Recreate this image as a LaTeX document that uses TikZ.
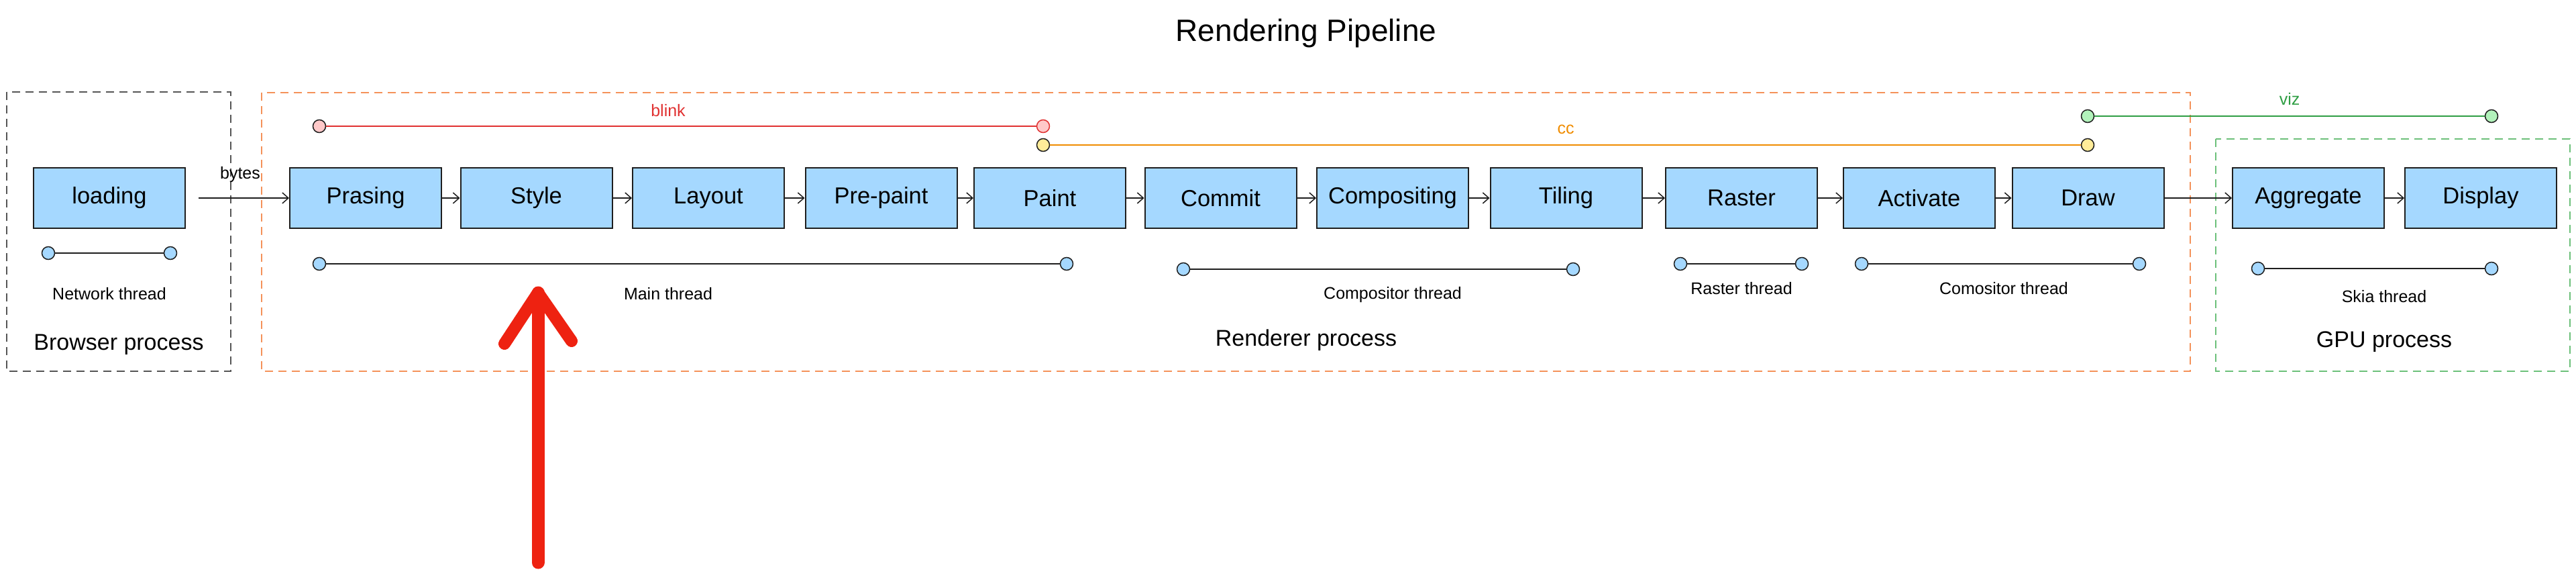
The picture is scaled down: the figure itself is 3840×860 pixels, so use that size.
\documentclass[tikz,border=0pt]{standalone}
\usepackage{fontspec}
\setmainfont{Liberation Sans}
\usetikzlibrary{arrows.meta}
\definecolor{boxblue}{HTML}{A5D8FF}
\definecolor{ink}{HTML}{1E1E1E}
\definecolor{blinkred}{HTML}{E03131}
\definecolor{blinkfill}{HTML}{FFC9C9}
\definecolor{ccorange}{HTML}{F08C00}
\definecolor{ccfill}{HTML}{FFEC99}
\definecolor{vizgreen}{HTML}{2F9E44}
\definecolor{vizfill}{HTML}{B2F2BB}
\definecolor{rendorange}{HTML}{F4925A}
\definecolor{gpugreen}{HTML}{6CC07A}
\definecolor{brgray}{HTML}{555555}
\definecolor{markred}{HTML}{EE2211}
\begin{document}
\begin{tikzpicture}[x=1pt,y=-1pt,
  stage/.style={draw=ink, line width=2pt, fill=boxblue, minimum width=226pt, minimum height=90pt, inner sep=0pt, font=\fontsize{34.5}{40}\selectfont},
  dot/.style={circle, draw=ink, line width=1.5pt, minimum size=19pt, inner sep=0pt, fill=boxblue},
  thr/.style={line width=2.5pt, draw=ink},
  flow/.style={-{Straight Barb[length=9pt,width=16pt]}, line width=1.5pt, draw=ink},
  lbl/.style={font=\fontsize{25}{30}\selectfont, inner sep=0pt},
  proc/.style={font=\fontsize{34}{40}\selectfont, inner sep=0pt},
  region/.style={line width=2pt, dash pattern=on 12pt off 8pt}
]
\useasboundingbox (0,0) rectangle (3840,860);

% title
\node[font=\fontsize{46}{52}\selectfont] (title) at (1947,50) {Rendering Pipeline};

% process regions
\draw[region, draw=brgray] (10,137) rectangle (344,553);
\draw[region, draw=rendorange] (390,138) rectangle (3265,553);
\draw[region, draw=gpugreen] (3303,207) rectangle (3831,553);

\node[proc] (bproc) at (177,513) {Browser process};
\node[proc] (rproc) at (1947,507) {Renderer process};
\node[proc] (gproc) at (3554,509) {GPU process};

% stages
\node[stage] (loading) at (163,295) {loading};
\node[stage] (prasing) at (545,295) {Prasing};
\node[stage] (style) at (799.5,295) {Style};
\node[stage] (layout) at (1056,295) {Layout};
\node[stage] (prepaint) at (1313.5,295) {Pre-paint};
\node[stage] (paint) at (1565,295) {Paint};
\node[stage] (commit) at (1819.5,295) {Commit};
\node[stage] (compositing) at (2076,295) {Compositing};
\node[stage] (tiling) at (2334.5,295) {Tiling};
\node[stage] (raster) at (2596,295) {Raster};
\node[stage] (activate) at (2861,295) {Activate};
\node[stage] (draw) at (3112.5,295) {Draw};
\node[stage] (aggregate) at (3441,295) {Aggregate};
\node[stage] (display) at (3698,295) {Display};

% flow arrows
\draw[flow, shorten <=19pt] (loading) -- (prasing);
\node[lbl] (bytes) at (358,260) {bytes};
\draw[flow] (prasing) -- (style);
\draw[flow] (style) -- (layout);
\draw[flow] (layout) -- (prepaint);
\draw[flow] (prepaint) -- (paint);
\draw[flow] (paint) -- (commit);
\draw[flow] (commit) -- (compositing);
\draw[flow] (compositing) -- (tiling);
\draw[flow] (tiling) -- (raster);
\draw[flow] (raster) -- (activate);
\draw[flow] (activate) -- (draw);
\draw[flow] (draw) -- (aggregate);
\draw[flow] (aggregate) -- (display);

% module lines
\node[dot, fill=blinkfill] (bl1) at (476,188) {};
\node[dot, fill=blinkfill, draw=blinkred] (bl2) at (1555,188) {};
\draw[line width=2.5pt, draw=blinkred] (bl1) -- (bl2);
\node[lbl, text=blinkred] (blink) at (996,165) {blink};

\node[dot, fill=ccfill] (cc1) at (1555,216) {};
\node[dot, fill=ccfill] (cc2) at (3112,216) {};
\draw[line width=2.5pt, draw=ccorange] (cc1) -- (cc2);
\node[lbl, text=ccorange] (cc) at (2334,193) {cc};

\node[dot, fill=vizfill] (vz1) at (3112,173) {};
\node[dot, fill=vizfill] (vz2) at (3714,173) {};
\draw[line width=2.5pt, draw=vizgreen] (vz1) -- (vz2);
\node[lbl, text=vizgreen] (viz) at (3413,147) {viz};

% threads
\node[dot] (nt1) at (72,377) {};
\node[dot] (nt2) at (254,377) {};
\draw[thr] (nt1) -- (nt2);
\node[lbl] (ntl) at (163,438) {Network thread};

\node[dot] (mt1) at (476,393) {};
\node[dot] (mt2) at (1590,393) {};
\draw[thr] (mt1) -- (mt2);
\node[lbl] (mtl) at (996,438) {Main thread};

\node[dot] (ct1) at (1764,401) {};
\node[dot] (ct2) at (2345,401) {};
\draw[thr] (ct1) -- (ct2);
\node[lbl] (ctl) at (2076,439) {Compositor thread};

\node[dot] (rt1) at (2505,393) {};
\node[dot] (rt2) at (2686,393) {};
\draw[thr] (rt1) -- (rt2);
\node[lbl] (rtl) at (2596,430) {Raster thread};

\node[dot] (at1) at (2775,393) {};
\node[dot] (at2) at (3189,393) {};
\draw[thr] (at1) -- (at2);
\node[lbl] (atl) at (2987,430) {Comositor thread};

\node[dot] (sk1) at (3366,400) {};
\node[dot] (sk2) at (3714,400) {};
\draw[thr] (sk1) -- (sk2);
\node[lbl] (skl) at (3554,442) {Skia thread};

% red marker arrow
\coordinate (mkbot) at (802,838);
\coordinate (mktop) at (802,436);
\coordinate (mkl) at (752,512);
\coordinate (mkr) at (852,508);
\draw[markred, line width=19pt, line cap=round, line join=round] (mkbot) -- (mktop);
\draw[markred, line width=18pt, line cap=round, line join=round] (mkl) -- (mktop) -- (mkr);
\end{tikzpicture}
\end{document}
